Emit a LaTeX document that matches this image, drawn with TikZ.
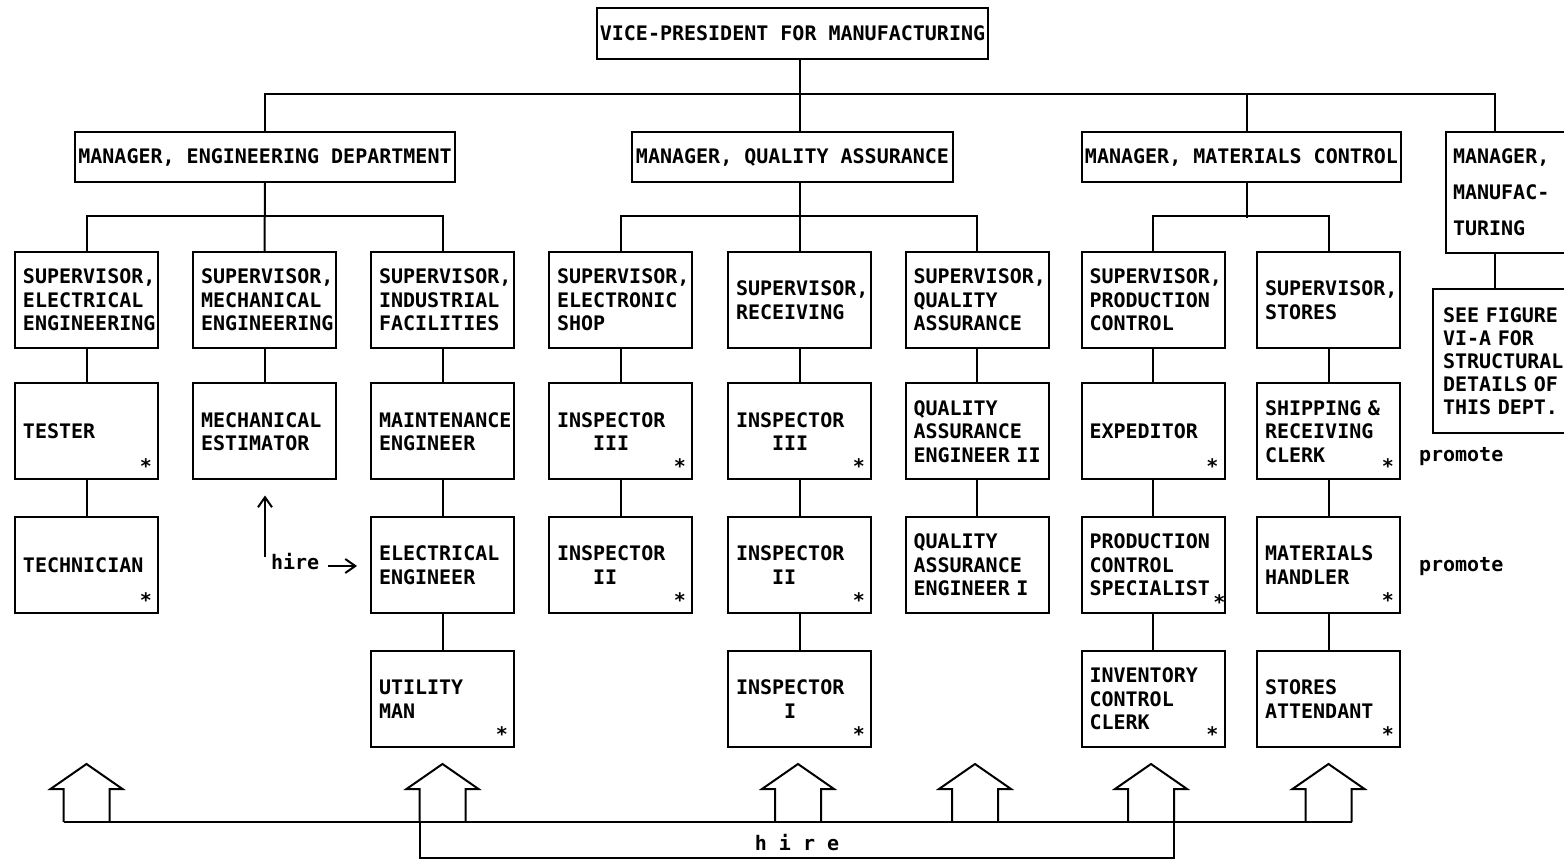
\documentclass[tikz,border=0pt]{standalone}
\usepackage{fontspec}
\setmainfont{DejaVu Sans Mono}
\usetikzlibrary{arrows.meta,calc}
\hyphenpenalty=10000\relax
\begin{document}
\begin{tikzpicture}[x=0.5pt,y=-0.5pt,line width=1pt,
  every node/.style={font=\fontsize{10}{11.75}\selectfont\bfseries},
  box/.style={draw,rectangle,inner ysep=0pt},
  mgr/.style={box,minimum height=25pt,inner xsep=0pt},
  job/.style={box,minimum width=71.5pt,minimum height=48pt,text width=63.5pt,inner xsep=4pt,align=left},
  ast/.style={inner sep=0pt},
  lbl/.style={inner sep=0pt},
  arr/.style={-{Straight Barb[length=5pt,width=7pt]}},
  house/.pic={\draw[line join=miter] (-23,0) -- (-23,-33) -- (-36,-33) -- (0,-58) -- (36,-33) -- (23,-33) -- (23,0);}
]
\useasboundingbox (0,0) rectangle (1564,860);
\clip (0,0) rectangle (1564,860);

% top level
\node[mgr,minimum width=195.5pt,minimum height=25.5pt] (vp) at (792.5,33.5) {VICE-PRESIDENT FOR MANUFACTURING};
\node[mgr,minimum width=190pt] (eng) at (265,157) {MANAGER, ENGINEERING DEPARTMENT};
\node[mgr,minimum width=160.5pt] (qa) at (792.5,157) {MANAGER, QUALITY ASSURANCE};
\node[mgr,minimum width=159.5pt] (mat) at (1241.5,157) {MANAGER, MATERIALS CONTROL};
\node[box,minimum width=67pt,minimum height=60.5pt,text width=60pt,inner xsep=3.5pt,align=left,
      font=\fontsize{10}{18}\selectfont\bfseries] (mfg) at (1513,192.5) {MANAGER,\\MANUFAC-\\TURING};
\node[box,minimum width=73.5pt,minimum height=72pt,text width=63.5pt,inner xsep=5pt,align=left,
      font=\fontsize{10}{11.5}\selectfont\bfseries] (see) at (1506.5,361) {SEE FIGURE\\VI-A FOR\\STRUCTURAL\\DETAILS OF\\THIS DEPT.};
\coordinate (mx) at (1495,0);

% supervisors
\node[job] (s1) at (86.5,300) {SUPERVISOR,\\ELECTRICAL\\ENGINEERING};
\node[job] (s2) at (264.5,300) {SUPERVISOR,\\MECHANICAL\\ENGINEERING};
\node[job] (s3) at (442.5,300) {SUPERVISOR,\\INDUSTRIAL\\FACILITIES};
\node[job] (s4) at (620.5,300) {SUPERVISOR,\\ELECTRONIC\\SHOP};
\node[job] (s5) at (799.5,300) {SUPERVISOR,\\RECEIVING};
\node[job] (s6) at (977,300) {SUPERVISOR,\\QUALITY\\ASSURANCE};
\node[job] (s7) at (1153,300) {SUPERVISOR,\\PRODUCTION\\CONTROL};
\node[job] (s8) at (1328.5,300) {SUPERVISOR,\\STORES};

% row 2
\node[job] (a1) at (86.5,431.5) {TESTER};
\node[job] (a2) at (264.5,431.5) {MECHANICAL\\ESTIMATOR};
\node[job] (a3) at (442.5,431.5) {MAINTENANCE\\ENGINEER};
\node[job] (a4) at (620.5,431.5) {INSPECTOR\\\phantom{XXX}III};
\node[job] (a5) at (799.5,431.5) {INSPECTOR\\\phantom{XXX}III};
\node[job] (a6) at (977,431.5) {QUALITY\\ASSURANCE\\ENGINEER~II};
\node[job] (a7) at (1153,431.5) {EXPEDITOR};
\node[job] (a8) at (1328.5,431.5) {SHIPPING \&\\RECEIVING\\CLERK};

% row 3
\node[job] (b1) at (86.5,565) {TECHNICIAN};
\node[job] (b3) at (442.5,565) {ELECTRICAL\\ENGINEER};
\node[job] (b4) at (620.5,565) {INSPECTOR\\\phantom{XXX}II};
\node[job] (b5) at (799.5,565) {INSPECTOR\\\phantom{XXX}II};
\node[job] (b6) at (977,565) {QUALITY\\ASSURANCE\\ENGINEER~I};
\node[job] (b7) at (1153,565) {PRODUCTION\\CONTROL\\SPECIALIST};
\node[job] (b8) at (1328.5,565) {MATERIALS\\HANDLER};

% row 4
\node[job] (c3) at (442.5,699) {UTILITY\\MAN};
\node[job] (c5) at (799.5,699) {INSPECTOR\\\phantom{XXXX}I};
\node[job] (c7) at (1153,699) {INVENTORY\\CONTROL\\CLERK};
\node[job] (c8) at (1328.5,699) {STORES\\ATTENDANT};

% asterisks
\foreach \n in {a1,b1,c3,a4,b4,a5,b5,c5,a7,c7,a8,b8,c8}
  \node[ast] (\n-ast) at ([shift={(-13,-14)}]\n.south east) {*};
\node[ast] (b7-ast) at ([shift={(-6,-12)}]b7.south east) {*};

% hierarchy lines
\draw (vp.south -| s5.north) -- (qa.north -| s5.north);
\draw (eng.north) -- ++(0,-37) coordinate (busl) -- (busl -| mx) -- (mfg.north -| mx);
\draw ([xshift=2.75pt]mat.north) -- ++(0,-37);
\draw (eng.south) -- (s2.north);
\draw (s1.north) -- ++(0,-35) -| (s3.north);
\draw (qa.south -| s5.north) -- (s5.north);
\draw (s4.north) -- ++(0,-35) -| (s6.north);
\draw ([xshift=2.75pt]mat.south) -- ++(0,35);
\draw (s7.north) -- ++(0,-35) -| (s8.north);
\draw (mfg.south -| mx) -- (see.north -| mx);

% columns
\draw (s1.south) -- (a1.north) (a1.south) -- (b1.north);
\draw (s2.south) -- (a2.north);
\draw (s3.south) -- (a3.north) (a3.south) -- (b3.north) (b3.south) -- (c3.north);
\draw (s4.south) -- (a4.north) (a4.south) -- (b4.north);
\draw (s5.south) -- (a5.north) (a5.south) -- (b5.north) (b5.south) -- (c5.north);
\draw (s6.south) -- (a6.north) (a6.south) -- (b6.north);
\draw (s7.south) -- (a7.north) (a7.south) -- (b7.north) (b7.south) -- (c7.north);
\draw (s8.south) -- (a8.north) (a8.south) -- (b8.north) (b8.south) -- (c8.north);

% hire arrows near mechanical estimator
\node[lbl,anchor=base west] (hire1) at (270,570) {hire};
\coordinate (hb) at (265,557);
\draw[arr,shorten >=7.5pt] (hb) -- (hb |- a2.south);
\coordinate (ha) at (328,566);
\draw[arr,shorten >=6.5pt] (ha) -- (ha -| b3.west);

% promote labels
\node[lbl,anchor=base west] (p1) at (1418,462) {promote};
\node[lbl,anchor=base west] (p2) at (1418,572) {promote};

% bottom hire block arrows
\coordinate (h1) at (86.5,822);
\coordinate (h2) at (442.5,822);
\coordinate (h3) at (798,822);
\coordinate (h4) at (975,822);
\coordinate (h5) at (1151,822);
\coordinate (h6) at (1328.5,822);
\foreach \h in {h1,h2,h3,h4,h5,h6} \pic at (\h) {house};
\draw ([xshift=-11.5pt]h1) -- ([xshift=11.5pt]h6);
\draw ([xshift=-11.5pt]h2) -- ++(0,36) -| ([xshift=11.5pt]h5);
\node[lbl,anchor=base] (hire2) at (797,850) {h i r e};
\end{tikzpicture}
\end{document}
